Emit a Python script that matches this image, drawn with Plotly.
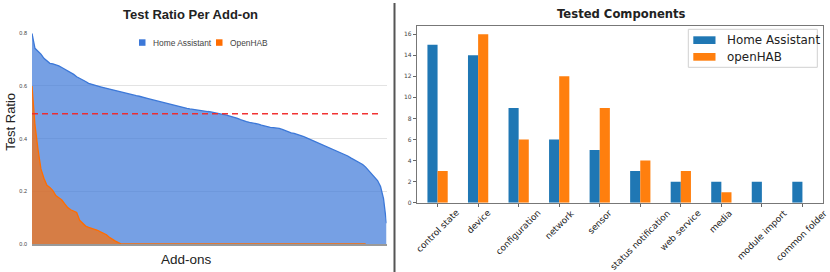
import plotly.graph_objects as go

# ---------------- Data ----------------
# Left panel: test ratio per add-on (sorted, descending)
ha_ratio = [
    0.800, 0.743, 0.732, 0.721, 0.705, 0.694, 0.686, 0.684, 0.681, 0.676,
    0.670, 0.664, 0.658, 0.652, 0.644, 0.635, 0.630, 0.624, 0.617, 0.610,
    0.606, 0.602, 0.599, 0.597, 0.594, 0.591, 0.589, 0.586, 0.583, 0.580,
    0.577, 0.574, 0.572, 0.569, 0.566, 0.563, 0.561, 0.557, 0.555, 0.552,
    0.549, 0.546, 0.544, 0.541, 0.538, 0.535, 0.532, 0.529, 0.526, 0.523,
    0.520, 0.518, 0.515, 0.513, 0.511, 0.509, 0.508, 0.506, 0.505, 0.503,
    0.502, 0.499, 0.497, 0.494, 0.492, 0.490, 0.487, 0.485, 0.481, 0.477,
    0.472, 0.467, 0.465, 0.462, 0.460, 0.457, 0.455, 0.451, 0.448, 0.445,
    0.443, 0.442, 0.441, 0.439, 0.435, 0.430, 0.425, 0.422, 0.420, 0.417,
    0.414, 0.409, 0.404, 0.399, 0.395, 0.390, 0.386, 0.381, 0.376, 0.371,
    0.366, 0.361, 0.355, 0.350, 0.345, 0.340, 0.334, 0.327, 0.321, 0.315,
    0.308, 0.302, 0.292, 0.279, 0.266, 0.254, 0.241, 0.218, 0.172, 0.079,
]
oh_ratio = [
    0.600, 0.452, 0.360, 0.285, 0.250, 0.223, 0.215, 0.203, 0.184, 0.175,
    0.167, 0.152, 0.138, 0.130, 0.125, 0.120, 0.090, 0.077, 0.068, 0.063,
    0.060, 0.056, 0.052, 0.046, 0.040, 0.035, 0.025, 0.017, 0.011, 0.005,
    0.0, 0.0, 0.0, 0.0, 0.0, 0.0, 0.0, 0.0, 0.0, 0.0,
    0.0, 0.0, 0.0, 0.0, 0.0, 0.0, 0.0, 0.0, 0.0, 0.0,
    0.0, 0.0, 0.0, 0.0, 0.0, 0.0, 0.0, 0.0, 0.0, 0.0,
    0.0, 0.0, 0.0, 0.0, 0.0, 0.0, 0.0, 0.0, 0.0, 0.0,
    0.0, 0.0, 0.0, 0.0, 0.0, 0.0, 0.0, 0.0, 0.0, 0.0,
    0.0, 0.0, 0.0, 0.0, 0.0, 0.0, 0.0, 0.0, 0.0, 0.0,
    0.0, 0.0, 0.0, 0.0, 0.0, 0.0, 0.0, 0.0, 0.0, 0.0,
    0.0, 0.0, 0.0, 0.0, 0.0, 0.0, 0.0, 0.0, 0.0, 0.0,
    0.0, 0.0, 0.0,
]
mean_ratio = 0.495
ratio_ticks = [0.0, 0.2, 0.4, 0.6, 0.8]

# Right panel: tested components
components = ["control state", "device", "configuration", "network", "sensor",
              "status notification", "web service", "media", "module import",
              "common folder"]
ha_counts = [15, 14, 9, 6, 5, 3, 2, 2, 2, 2]
oh_counts = [3, 16, 6, 12, 9, 4, 3, 1, 0, 0]
count_ticks = [0, 2, 4, 6, 8, 10, 12, 14, 16]

# ---------------- Styling helpers ----------------
W, H = 830, 272


def px(x):
    return x / W


def py(y):
    return 1 - y / H


GBLUE, GORANGE = "#3c78d8", "#ff6d01"
MBLUE, MORANGE = "#1f77b4", "#ff7f0e"
ARIAL = "Liberation Sans, Arial, sans-serif"
DEJAVU = "DejaVu Sans, sans-serif"

fig = go.Figure()

# ---------------- Left panel ----------------
fig.add_trace(go.Scatter(
    x=list(range(len(ha_ratio))), y=ha_ratio, mode="lines", name="Home Assistant",
    fill="tozeroy", fillcolor="rgba(60,120,216,0.7)",
    line=dict(color=GBLUE, width=1.3), xaxis="x", yaxis="y", showlegend=False,
    hoverinfo="skip"))
fig.add_trace(go.Scatter(
    x=list(range(len(oh_ratio))), y=oh_ratio, mode="lines", name="OpenHAB",
    fill="tozeroy", fillcolor="rgba(255,109,1,0.7)",
    line=dict(color=GORANGE, width=1.3), xaxis="x", yaxis="y", showlegend=False,
    hoverinfo="skip"))
fig.add_trace(go.Scatter(
    x=[0, len(ha_ratio) - 3], y=[mean_ratio, mean_ratio], mode="lines",
    line=dict(color="rgba(240,40,40,0.95)", width=1.5, dash="6px,4px"),
    xaxis="x", yaxis="y", showlegend=False, hoverinfo="skip"))

# ---------------- Right panel ----------------
fig.add_trace(go.Bar(
    x=list(range(len(components))), y=ha_counts, name="Home Assistant",
    marker=dict(color=MBLUE, line=dict(width=0)), xaxis="x2", yaxis="y2",
    showlegend=False))
fig.add_trace(go.Bar(
    x=list(range(len(components))), y=oh_counts, name="openHAB",
    marker=dict(color=MORANGE, line=dict(width=0)), xaxis="x2", yaxis="y2",
    showlegend=False))

shapes = []
annotations = []

# left legend (Google style)
shapes.append(dict(type="rect", xref="paper", yref="paper",
                   x0=px(139), x1=px(145.5), y0=py(45.8), y1=py(39.3),
                   fillcolor=GBLUE, line=dict(width=0)))
shapes.append(dict(type="rect", xref="paper", yref="paper",
                   x0=px(216), x1=px(222.5), y0=py(45.8), y1=py(39.3),
                   fillcolor=GORANGE, line=dict(width=0)))
annotations.append(dict(text="Home Assistant", x=px(150.5), y=py(42.6),
                        xref="paper", yref="paper", xanchor="left", yanchor="middle",
                        showarrow=False, font=dict(family=ARIAL, size=8.4, color="#444")))
annotations.append(dict(text="OpenHAB", x=px(227.5), y=py(42.6),
                        xref="paper", yref="paper", xanchor="left", yanchor="middle",
                        showarrow=False, font=dict(family=ARIAL, size=8.4, color="#444")))

# left titles
annotations.append(dict(text="<b>Test Ratio Per Add-on</b>", x=px(190), y=py(14.5),
                        xref="paper", yref="paper", xanchor="center", yanchor="middle",
                        showarrow=False, font=dict(family=ARIAL, size=13, color="#222")))
annotations.append(dict(text="Test Ratio", x=px(11), y=py(121.7), textangle=-90,
                        xref="paper", yref="paper", xanchor="center", yanchor="middle",
                        showarrow=False, font=dict(family=ARIAL, size=13, color="#222")))
annotations.append(dict(text="Add-ons", x=px(186), y=py(259),
                        xref="paper", yref="paper", xanchor="center", yanchor="middle",
                        showarrow=False, font=dict(family=ARIAL, size=13.5, color="#222")))

# right title
annotations.append(dict(text="<b>Tested Components</b>", x=px(621), y=py(14),
                        xref="paper", yref="paper", xanchor="center", yanchor="middle",
                        showarrow=False, font=dict(family=DEJAVU, size=11.6, color="#222")))

# right category labels (rotated, centred on ticks like matplotlib)
for i, name in enumerate(components):
    annotations.append(dict(text=name, x=i, xref="x2", y=py(206.5), yref="paper",
                            xanchor="center", yanchor="top", textangle=-45,
                            showarrow=False, borderpad=0,
                            font=dict(family=DEJAVU, size=8.9, color="#222")))

# right legend (matplotlib style)
shapes.append(dict(type="rect", xref="paper", yref="paper",
                   x0=px(688.3), x1=px(817.3), y0=py(67.3), y1=py(29.3),
                   fillcolor="white", line=dict(color="#d0d0d0", width=1)))
shapes.append(dict(type="rect", xref="paper", yref="paper",
                   x0=px(693.3), x1=px(715.5), y0=py(44), y1=py(36.3),
                   fillcolor=MBLUE, line=dict(width=0)))
shapes.append(dict(type="rect", xref="paper", yref="paper",
                   x0=px(693.3), x1=px(715.5), y0=py(60.7), y1=py(53),
                   fillcolor=MORANGE, line=dict(width=0)))
annotations.append(dict(text="Home Assistant", x=px(724.5), y=py(40.2),
                        xref="paper", yref="paper", xanchor="left", yanchor="middle",
                        showarrow=False, font=dict(family=DEJAVU, size=11.9, color="#222")))
annotations.append(dict(text="openHAB", x=px(724.5), y=py(57),
                        xref="paper", yref="paper", xanchor="left", yanchor="middle",
                        showarrow=False, font=dict(family=DEJAVU, size=11.9, color="#222")))

# divider between the two panels
shapes.append(dict(type="line", xref="paper", yref="paper",
                   x0=px(394.5), x1=px(394.5), y0=py(3), y1=0,
                   line=dict(color="#555", width=2)))

fig.update_layout(
    template="none",
    width=W, height=H,
    margin=dict(l=0, r=0, t=0, b=0, pad=0, autoexpand=False),
    paper_bgcolor="white", plot_bgcolor="rgba(0,0,0,0)",
    barmode="group", bargap=0.5, bargroupgap=0,
    showlegend=False,
    shapes=shapes, annotations=annotations,
    xaxis=dict(domain=[px(32), px(386.5)], range=[0, len(ha_ratio) - 1],
               automargin=False,
               showgrid=False, zeroline=False, showticklabels=False, ticks="",
               showline=True, linecolor="#9a9a9a", linewidth=1.5),
    yaxis=dict(domain=[py(244), py(33.3)], range=[0, 0.8], automargin=False,
               tickvals=ratio_ticks, tickformat=".1f",
               tickfont=dict(family=ARIAL, size=5.5, color="#444"),
               showgrid=True, gridcolor="#e3e3e3", gridwidth=1,
               zeroline=False, ticks="", showline=False, ticklabelstandoff=4),
    xaxis2=dict(domain=[px(417.3), px(822.7)], range=[-0.5, len(components) - 0.5],
                anchor="y2", automargin=False, tickvals=list(range(len(components))),
                showticklabels=False, ticks="outside", ticklen=3.5, tickwidth=0.8,
                tickcolor="#666", showgrid=False, zeroline=False,
                showline=True, linecolor="#777", linewidth=1, mirror=True),
    yaxis2=dict(domain=[py(202.7), py(25.7)], range=[0, 16.8], anchor="x2",
                automargin=False, tickvals=count_ticks,
                tickfont=dict(family=DEJAVU, size=6, color="#444"),
                ticks="outside", ticklen=3.5, tickwidth=0.8, tickcolor="#666",
                showgrid=False, zeroline=False,
                showline=True, linecolor="#777", linewidth=1, mirror=True),
)

fig.write_html(
    "out.html",
    config={"displayModeBar": False},
    post_script="document.body.style.margin='0';document.body.style.padding='0';",
)
